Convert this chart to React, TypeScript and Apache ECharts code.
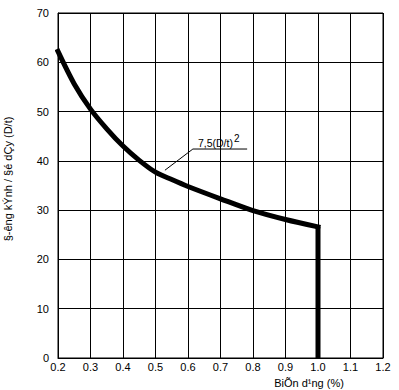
import React, { useEffect, useRef } from "react";
import * as echarts from "echarts";

const xValues = [0.2, 0.25, 0.3, 0.35, 0.4, 0.45, 0.5, 0.55, 0.6, 0.7, 0.8, 0.9, 1.0];
const yValues = [62.2, 55.6, 50.5, 46.5, 43.0, 40.1, 37.7, 36.2, 34.8, 32.3, 29.9, 28.1, 26.6];
const dropX = [1.0, 1.0];
const dropY = [26.6, 0];
const xTitle = "BiÕn d¹ng (%)";
const yTitle = "§-êng kÝnh / §é dÇy (D/t)";
const annotationText = "7,5(D/t)";
const annotationSup = "2";
// leader: curve point -> elbow -> end of underline (data coords)
const leaderPoints = [
  [0.529, 38.1],
  [0.615, 42.4],
  [0.782, 42.4],
];

const FONT = "'Liberation Sans', Arial, sans-serif";

function measure(text: string, size: number) {
  const c = document.createElement("canvas").getContext("2d");
  if (!c) return text.length * size * 0.55;
  c.font = `${size}px 'Liberation Sans', Arial, sans-serif`;
  return c.measureText(text).width;
}

export default function App() {
  const ref = useRef<HTMLDivElement>(null);
  useEffect(() => {
    if (!ref.current) return;
    const chart = echarts.init(ref.current, undefined, { renderer: "svg" });
    const curve = xValues.map((x, i) => [x, yValues[i]]);
    const drop = dropX.map((x, i) => [x, dropY[i]]);
    chart.setOption({
      animation: false,
      grid: {
        left: 58,
        right: 16,
        top: 13,
        bottom: 32,
        show: true,
        borderColor: "#000",
        borderWidth: 1,
      },
      xAxis: {
        type: "value",
        min: 0.2,
        max: 1.2,
        interval: 0.1,
        axisLine: { show: true, lineStyle: { color: "#000", width: 1 } },
        axisTick: { show: false },
        splitLine: { show: true, lineStyle: { color: "#000", width: 1 } },
        axisLabel: {
          color: "#000",
          fontFamily: FONT,
          fontSize: 11,
          margin: 3,
          formatter: (v: number) => v.toFixed(1),
        },
      },
      yAxis: {
        type: "value",
        min: 0,
        max: 70,
        interval: 10,
        axisLine: { show: true, lineStyle: { color: "#000", width: 1 } },
        axisTick: { show: false },
        splitLine: { show: true, lineStyle: { color: "#000", width: 1 } },
        axisLabel: {
          color: "#000",
          fontFamily: FONT,
          fontSize: 11,
          margin: 9,
          padding: [0, 0, 6, 0],
        },
      },
      series: [
        {
          type: "line",
          data: curve,
          smooth: 0.3,
          showSymbol: false,
          symbol: "none",
          lineStyle: { color: "#000", width: 5, cap: "square" },
          itemStyle: { color: "#000" },
        },
        {
          type: "line",
          data: drop,
          showSymbol: false,
          symbol: "none",
          lineStyle: { color: "#000", width: 5 },
          itemStyle: { color: "#000" },
        },
      ],
    });
    const pts = leaderPoints.map((p) => chart.convertToPixel({ gridIndex: 0 }, p) as number[]);
    const annSize = 10.5;
    const annW = measure(annotationText, annSize);
    const tx = pts[1][0] + 5;
    chart.setOption({
      graphic: [
        {
          type: "polyline",
          shape: { points: pts },
          style: { stroke: "#000", lineWidth: 1, fill: null },
          silent: true,
        },
        {
          type: "text",
          x: tx,
          y: pts[1][1] - 1,
          style: {
            text: annotationText,
            fontFamily: FONT,
            fontSize: annSize,
            fill: "#000",
            textAlign: "left",
            textVerticalAlign: "bottom",
          },
        },
        {
          type: "text",
          x: tx + annW + 1,
          y: pts[1][1] - 6,
          style: {
            text: annotationSup,
            fontFamily: FONT,
            fontSize: 10,
            fill: "#000",
            textAlign: "left",
            textVerticalAlign: "bottom",
          },
        },
        {
          type: "text",
          x: 309,
          y: 383,
          style: {
            text: xTitle,
            fontFamily: FONT,
            fontSize: 11,
            fill: "#000",
            textAlign: "center",
            textVerticalAlign: "middle",
          },
        },
        {
          type: "text",
          x: 8,
          y: 179,
          rotation: Math.PI / 2,
          style: {
            text: yTitle,
            fontFamily: FONT,
            fontSize: 11,
            fill: "#000",
            textAlign: "center",
            textVerticalAlign: "middle",
          },
        },
      ],
    });
    return () => chart.dispose();
  }, []);
  return (
    <div
      ref={ref}
      style={{ position: "absolute", left: 0, top: 0, width: 399, height: 390, background: "#fff" }}
    />
  );
}
